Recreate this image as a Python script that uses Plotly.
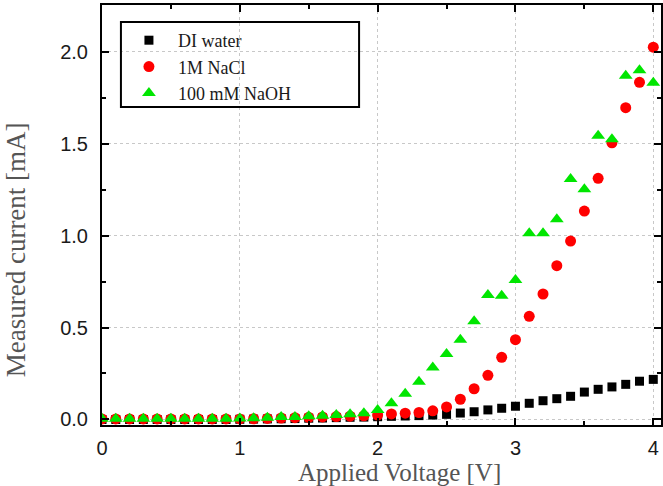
import plotly.graph_objects as go

voltage = [round(i * 0.1, 1) for i in range(41)]

di_water = [0.0, 0.0, 0.0, 0.0, 0.0, 0.0, 0.0, 0.0, 0.0, 0.0,
            0.001, 0.002, 0.003, 0.004, 0.005, 0.007, 0.008, 0.010, 0.012, 0.013,
            0.015, 0.017, 0.019, 0.021, 0.024, 0.028, 0.035, 0.042, 0.052, 0.061,
            0.072, 0.088, 0.102, 0.113, 0.126, 0.149, 0.164, 0.177, 0.191, 0.208,
            0.218]

nacl = [0.003, 0.003, 0.003, 0.003, 0.003, 0.003, 0.003, 0.003, 0.003, 0.003,
        0.003, 0.004, 0.006, 0.008, 0.010, 0.012, 0.014, 0.016, 0.018, 0.020,
        0.024, 0.030, 0.034, 0.038, 0.047, 0.068, 0.110, 0.167, 0.240, 0.338,
        0.434, 0.561, 0.682, 0.836, 0.970, 1.133, 1.311, 1.504, 1.695, 1.833,
        2.024]

naoh = [0.004, 0.004, 0.004, 0.004, 0.004, 0.004, 0.004, 0.004, 0.004, 0.004,
        0.006, 0.007, 0.010, 0.013, 0.014, 0.018, 0.020, 0.024, 0.028, 0.034,
        0.052, 0.088, 0.140, 0.205, 0.282, 0.356, 0.434, 0.534, 0.677, 0.673,
        0.758, 1.012, 1.012, 1.088, 1.307, 1.251, 1.542, 1.523, 1.868, 1.898,
        1.830]

series_names = ["DI water", "1M NaCl", "100 mM NaOH"]
x_ticks = [0, 1, 2, 3, 4]
y_ticks = [0.0, 0.5, 1.0, 1.5, 2.0]
y_tick_text = ["0.0", "0.5", "1.0", "1.5", "2.0"]

fig = go.Figure()
fig.add_trace(go.Scatter(x=voltage, y=di_water, mode="markers", name=series_names[0],
                         marker=dict(symbol="square", size=9, color="#000000")))
fig.add_trace(go.Scatter(x=voltage, y=nacl, mode="markers", name=series_names[1],
                         marker=dict(symbol="circle", size=11, color="#ff0000")))
fig.add_trace(go.Scatter(x=voltage, y=naoh, mode="markers", name=series_names[2],
                         marker=dict(symbol="triangle-up", size=12, color="#00e600")))

W, H = 663, 486
L, R, T, B = 102, 0, 5, 61
pw = W - L - R
ph = H - T - B

def px_to_paper_x(px):
    return (px - L) / pw

def px_to_paper_y(py):
    return (H - B - py) / ph

axis_common = dict(
    showline=True, linecolor="#000000", linewidth=2, mirror="ticks",
    ticks="inside", ticklen=7, tickwidth=2, tickcolor="#000000",
    showgrid=True, gridcolor="#c8c8c8", griddash="dot", gridwidth=1,
    zeroline=False,
    tickfont=dict(family="Liberation Sans, Arial, sans-serif", size=20, color="#1a1a1a"),
)

fig.update_xaxes(range=[0, 4.056], tickvals=x_ticks, ticktext=[str(v) for v in x_ticks],
                 minor=dict(ticks="inside", ticklen=4, tickwidth=2, tickcolor="#000000",
                            dtick=0.5, showgrid=False),
                 ticklabelstandoff=4, **axis_common)
fig.update_yaxes(range=[-0.030, 2.253], tickvals=y_ticks, ticktext=y_tick_text,
                 minor=dict(ticks="inside", ticklen=4, tickwidth=2, tickcolor="#000000",
                            dtick=0.25, showgrid=False),
                 ticklabelstandoff=8, **axis_common)

fig.add_shape(type="rect", xref="paper", yref="paper",
              x0=px_to_paper_x(121), x1=px_to_paper_x(360),
              y0=px_to_paper_y(107), y1=px_to_paper_y(22),
              line=dict(color="#000000", width=2), fillcolor="rgba(0,0,0,0)")

fig.add_annotation(text="Applied Voltage [V]", xref="paper", yref="paper",
                   x=px_to_paper_x(401), y=px_to_paper_y(472),
                   xanchor="center", yanchor="middle", showarrow=False,
                   font=dict(family="Liberation Serif, Times New Roman, serif", size=25, color="#555555"))
fig.add_annotation(text="Measured current [mA]", xref="paper", yref="paper",
                   x=px_to_paper_x(16), y=px_to_paper_y(250), textangle=-90,
                   xanchor="center", yanchor="middle", showarrow=False,
                   font=dict(family="Liberation Serif, Times New Roman, serif", size=27, color="#555555"))

fig.update_layout(
    width=W, height=H,
    margin=dict(l=L, r=R, t=T, b=B),
    paper_bgcolor="#ffffff", plot_bgcolor="#ffffff",
    showlegend=True,
    legend=dict(x=px_to_paper_x(120), y=px_to_paper_y(22), xanchor="left", yanchor="top",
                bgcolor="rgba(0,0,0,0)", borderwidth=0, itemwidth=48,
                font=dict(family="Liberation Serif, Times New Roman, serif", size=18, color="#1a1a1a"),
                tracegroupgap=0),
)

fig.write_html("out.html")
